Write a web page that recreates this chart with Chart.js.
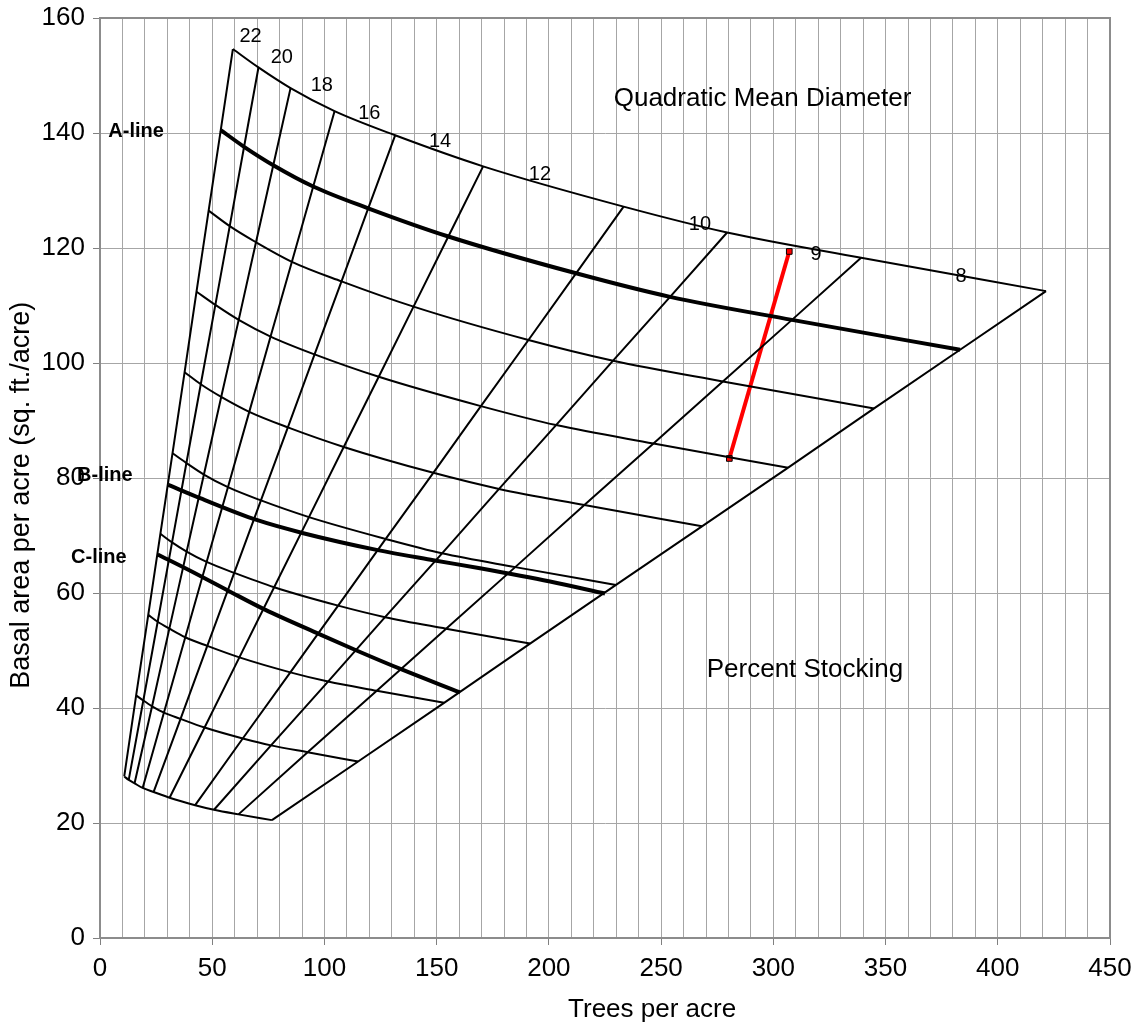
<!DOCTYPE html>
<html>
<head>
<meta charset="utf-8">
<script src="https://cdn.jsdelivr.net/npm/chart.js@4.4.1/dist/chart.umd.min.js"></script>
<style>
  html, body { margin: 0; padding: 0; background: #fff; }
  canvas { display: block; }
</style>
</head>
<body>
<canvas id="stockingChart" width="1139" height="1034"></canvas>
<script>
// Diametres (QMD, pouces) dans l'ordre des colonnes de la grille
const diameters = [22, 20, 18, 16, 14, 12, 10, 9, 8, 7];

// Arbres/acre et surface terriere pour chaque niveau de stocking (%)
const tpa110 = [59.2, 70.6, 84.9, 104.5, 131.5, 170.7, 233.3, 279.4, 339.1, 421.5];
const ba110 = [154.6, 151.4, 147.8, 143.8, 139.6, 134.2, 127.2, 122.7, 118.3, 112.5];
const tpa100 = [53.8, 64.2, 77.2, 95.0, 119.5, 155.2, 212.1, 254.0, 308.3, 383.2];
const ba100 = [140.5, 137.6, 134.4, 130.7, 126.9, 122.0, 115.6, 111.5, 107.5, 102.3];
const tpa90 = [48.4, 57.8, 69.5, 85.5, 107.6, 139.7, 190.9, 228.6, 277.5, 344.9];
const ba90 = [126.5, 123.8, 121.0, 117.6, 114.2, 109.8, 104.0, 100.4, 96.8, 92.1];
const tpa80 = [43.0, 51.4, 61.8, 76.0, 95.6, 124.2, 169.7, 203.2, 246.6, 306.6];
const ba80 = [112.4, 110.1, 107.5, 104.6, 101.5, 97.6, 92.5, 89.2, 86.0, 81.8];
const tpa70 = [37.7, 44.9, 54.0, 66.5, 83.7, 108.6, 148.5, 177.8, 215.8, 268.2];
const ba70 = [98.4, 96.3, 94.1, 91.5, 88.8, 85.4, 80.9, 78.1, 75.3, 71.6];
const tpa60 = [32.3, 38.5, 46.3, 57.0, 71.7, 93.1, 127.3, 152.4, 185.0, 229.9];
const ba60 = [84.3, 82.6, 80.6, 78.4, 76.1, 73.2, 69.4, 66.9, 64.5, 61.4];
const tpa50 = [26.9, 32.1, 38.6, 47.5, 59.8, 77.6, 106.1, 127.0, 154.2, 191.6];
const ba50 = [70.3, 68.8, 67.2, 65.4, 63.5, 61.0, 57.8, 55.8, 53.8, 51.2];
const tpa40 = [21.5, 25.7, 30.9, 38.0, 47.8, 62.1, 84.8, 101.6, 123.3, 153.3];
const ba40 = [56.2, 55.0, 53.8, 52.3, 50.8, 48.8, 46.2, 44.6, 43.0, 40.9];
const tpa30 = [16.1, 19.3, 23.2, 28.5, 35.9, 46.6, 63.6, 76.2, 92.5, 115.0];
const ba30 = [42.2, 41.3, 40.3, 39.2, 38.1, 36.6, 34.7, 33.5, 32.3, 30.7];
const tpa20 = [10.8, 12.8, 15.4, 19.0, 23.9, 31.0, 42.4, 50.8, 61.7, 76.6];
const ba20 = [28.1, 27.5, 26.9, 26.1, 25.4, 24.4, 23.1, 22.3, 21.5, 20.5];

// Lignes B et C
const bLineTpa = [30.4, 44.6, 69.8, 90.6, 123.2, 148.5, 169.3, 200.5, 225.0];
const bLineBa = [78.8, 76.5, 72.7, 70.4, 67.5, 65.7, 64.3, 62.0, 59.9];
const cLineTpa = [25.7, 40.0, 57.1, 73.5, 98.0, 114.3, 134.4, 160.4];
const cLineBa = [66.7, 63.9, 60.4, 57.1, 52.8, 50.0, 46.7, 42.7];

// Peuplement avant / apres eclaircie
const standTpa = [280.4, 307.1];
const standBa = [83.4, 119.4];

const levelTpa = [tpa110, tpa100, tpa90, tpa80, tpa70, tpa60, tpa50, tpa40, tpa30, tpa20];
const levelBa = [ba110, ba100, ba90, ba80, ba70, ba60, ba50, ba40, ba30, ba20];

const FONT = "'Liberation Sans', Arial, Helvetica, sans-serif";

function toPoints(xs, ys) {
    return xs.map((x, i) => ({ x: x, y: ys[i] }));
}

function lineDataset(points, width, smooth) {
    return {
        data: points,
        showLine: true,
        borderColor: '#000',
        borderWidth: width,
        pointRadius: 0,
        tension: smooth ? 0.4 : 0,
        cubicInterpolationMode: smooth ? 'monotone' : 'default',
        fill: false
    };
}

// Construire les jeux de donnees
function buildDatasets() {
    const datasets = [];

    // Courbes de stocking (la ligne A = 100 % est dessinee en gras plus bas)
    levelTpa.forEach((xs, i) => {
        if (i === 1) return;
        datasets.push(lineDataset(toPoints(xs, levelBa[i]), 2, true));
    });

    // Lignes de diametre : une colonne de la grille chacune
    diameters.forEach((d, j) => {
        const pts = levelTpa.map((xs, i) => ({ x: xs[j], y: levelBa[i][j] }));
        datasets.push(lineDataset(pts, 2, false));
    });

    // Lignes A, B, C en gras
    datasets.push(lineDataset(toPoints(tpa100, ba100), 4, true));
    datasets.push(lineDataset(toPoints(bLineTpa, bLineBa), 4, true));
    datasets.push(lineDataset(toPoints(cLineTpa, cLineBa), 4, true));

    // Trait rouge
    datasets.push({
        data: toPoints(standTpa, standBa),
        showLine: true,
        borderColor: '#ff0000',
        borderWidth: 4,
        pointStyle: 'rect',
        pointRadius: 4,
        pointBackgroundColor: '#ff0000',
        pointBorderColor: '#000',
        pointBorderWidth: 1,
        tension: 0
    });

    return datasets;
}

// Textes poses sur le graphique (coordonnees en unites des axes)
const chartNotes = [
    { text: '22', x: 67.1, y: 156.7, size: 20 },
    { text: '20', x: 81.0, y: 153.1, size: 20 },
    { text: '18', x: 98.8, y: 148.3, size: 20 },
    { text: '16', x: 120.0, y: 143.4, size: 20 },
    { text: '14', x: 151.5, y: 138.6, size: 20 },
    { text: '12', x: 196.0, y: 132.8, size: 20 },
    { text: '10', x: 267.3, y: 124.1, size: 20 },
    { text: '9', x: 319.0, y: 118.9, size: 20 },
    { text: '8', x: 383.6, y: 115.0, size: 20 },
    { text: 'Quadratic Mean Diameter', x: 295.2, y: 145.9, size: 26 },
    { text: 'Percent Stocking', x: 314.1, y: 46.6, size: 26 },
    { text: 'A-line', x: 3.7, y: 140.3, size: 20, bold: true, align: 'left' },
    { text: 'B-line', x: -10.2, y: 80.5, size: 20, bold: true, align: 'left' },
    { text: 'C-line', x: -12.9, y: 66.1, size: 20, bold: true, align: 'left' }
];

const notesPlugin = {
    id: 'notes',
    afterDatasetsDraw(chart) {
        const ctx = chart.ctx;
        const xs = chart.scales.x;
        const ys = chart.scales.y;
        const a = chart.chartArea;
        ctx.save();
        ctx.fillStyle = '#000';
        ctx.textBaseline = 'middle';
        chartNotes.forEach(n => {
            ctx.font = (n.bold ? 'bold ' : '') + n.size + 'px ' + FONT;
            ctx.textAlign = n.align || 'center';
            ctx.fillText(n.text, xs.getPixelForValue(n.x), ys.getPixelForValue(n.y));
        });

        // Titres des axes
        ctx.font = '26px ' + FONT;
        ctx.textAlign = 'center';
        ctx.fillText('Trees per acre', xs.getPixelForValue(246), a.bottom + 72);
        ctx.translate(22, ys.getPixelForValue(77));
        ctx.rotate(-Math.PI / 2);
        ctx.font = '27px ' + FONT;
        ctx.fillText('Basal area per acre (sq. ft./acre)', 0, 0);
        ctx.restore();
    }
};

// Cadre gris autour de la zone de trace
const framePlugin = {
    id: 'frame',
    beforeDatasetsDraw(chart) {
        const a = chart.chartArea;
        const ctx = chart.ctx;
        ctx.save();
        ctx.strokeStyle = '#8c8c8c';
        ctx.lineWidth = 2;
        ctx.strokeRect(a.left, a.top, a.right - a.left, a.bottom - a.top);
        ctx.restore();
    }
};

function createChart() {
    const canvas = document.getElementById('stockingChart');
    const tickFont = { family: FONT, size: 26 };

    new Chart(canvas, {
        type: 'scatter',
        data: { datasets: buildDatasets() },
        options: {
            responsive: false,
            animation: false,
            layout: { padding: { top: 18, right: 29, left: 0, bottom: 0 } },
            plugins: {
                legend: { display: false },
                tooltip: { enabled: false }
            },
            scales: {
                x: {
                    type: 'linear',
                    min: 0,
                    max: 450,
                    afterFit: s => {
                        s.height = 96;
                        s.paddingLeft = 0;
                        s.paddingRight = 0;
                    },
                    ticks: {
                        stepSize: 10,
                        autoSkip: false,
                        maxRotation: 0,
                        color: '#000',
                        font: tickFont,
                        padding: 8,
                        callback: v => (v % 50 === 0 ? v : '')
                    },
                    grid: {
                        color: '#a6a6a6',
                        lineWidth: 1,
                        tickLength: 7,
                        tickColor: c => (c.tick && c.tick.value % 50 === 0 ? '#808080' : 'rgba(0,0,0,0)')
                    },
                    border: { color: '#808080', width: 2 }
                },
                y: {
                    type: 'linear',
                    min: 0,
                    max: 160,
                    afterFit: s => {
                        s.width = 100;
                        s.paddingTop = 0;
                        s.paddingBottom = 0;
                    },
                    ticks: {
                        stepSize: 20,
                        color: '#000',
                        font: tickFont,
                        padding: 8
                    },
                    grid: {
                        color: '#a6a6a6',
                        lineWidth: 1,
                        tickLength: 7,
                        tickColor: '#808080'
                    },
                    border: { color: '#808080', width: 2 }
                }
            }
        },
        plugins: [framePlugin, notesPlugin]
    });
}

document.addEventListener('DOMContentLoaded', createChart);
</script>
</body>
</html>
